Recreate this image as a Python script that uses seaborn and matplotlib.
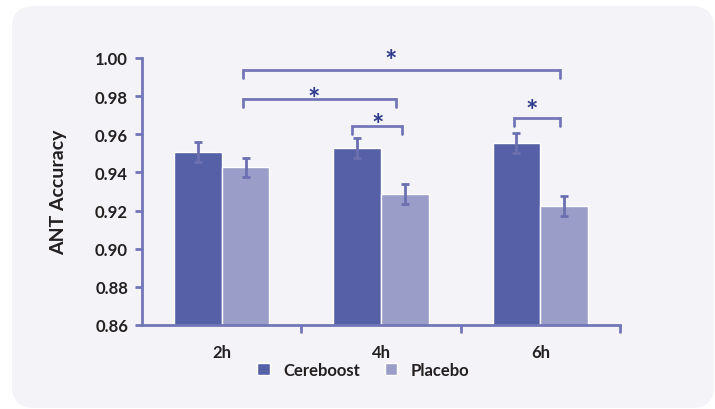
import matplotlib
matplotlib.use("Agg")
import matplotlib.pyplot as plt
from matplotlib.patches import FancyBboxPatch
import numpy as np
import pandas as pd
import seaborn as sns

# data
timepoints = ["2h", "4h", "6h"]
cereboost = [0.9507, 0.9528, 0.9554]
placebo = [0.9428, 0.9287, 0.9224]
cereboost_err = [0.0051, 0.0052, 0.0051]
placebo_err = [0.0050, 0.0051, 0.0050]
groups = ["Cereboost", "Placebo"]

# significance brackets: (x start, x end, height, star x, star y, label)
brackets = [
    (0.134, 2.123, 0.9937, 1.063, 1.0031, "*"),
    (0.134, 1.094, 0.9785, 0.580, 0.9832, "*"),
    (0.818, 1.132, 0.9643, 0.981, 0.9696, "*"),
    (1.835, 2.123, 0.9685, 1.948, 0.9769, "*"),
]

bar_colors = ["#5660a6", "#9a9dc8"]
axis_color = "#7276b8"
err_color = "#6c70b0"
star_color = "#2e3b8c"
text_color = "#231f20"
card_color = "#f4f4f8"

sns.set_style("ticks")
plt.rcParams["font.family"] = ["Lato", "DejaVu Sans"]

df = pd.DataFrame({
    "time": timepoints * 2,
    "value": cereboost + placebo,
    "err": cereboost_err + placebo_err,
    "group": [groups[0]] * 3 + [groups[1]] * 3,
})

fig = plt.figure(figsize=(7.15, 4.10), dpi=100, facecolor="white")

# rounded background card
card = FancyBboxPatch((0.12, 0.01), 7.02, 4.02,
                      boxstyle="round,pad=0,rounding_size=0.22",
                      transform=fig.dpi_scale_trans, facecolor=card_color,
                      edgecolor="none", zorder=-10)
fig.add_artist(card)

ax = fig.add_axes([142 / 715, 1 - 326 / 410, 478 / 715, 267 / 410])
ax.set_facecolor("none")

sns.barplot(data=df, x="time", y="value", hue="group", palette=bar_colors,
            width=0.6, errorbar=None, saturation=1, ax=ax, zorder=2)

# error bars drawn at the bar centres
for cont, grp in zip(ax.containers, groups):
    sub = df[df["group"] == grp]
    xs = [b.get_x() + b.get_width() / 2 for b in cont]
    ax.errorbar(xs, sub["value"].values, yerr=sub["err"].values, fmt="none",
                ecolor=err_color, elinewidth=2, capsize=3, capthick=2, zorder=3)

ax.set_ylim(0.86, 1.00)
ax.set_xlim(-0.5, 2.5)
ax.set_yticks(np.arange(0.86, 1.001, 0.02))
ax.set_yticklabels([f"{v:.2f}" for v in np.arange(0.86, 1.001, 0.02)])

# ticks between groups, labels at group centres
ax.set_xticks([0.5, 1.5, 2.5])
ax.set_xticklabels([])
ax.set_xticks([0, 1, 2], minor=True)
ax.set_xticklabels(timepoints, minor=True)
ax.tick_params(axis="x", which="major", length=6, width=2, color=axis_color)
ax.tick_params(axis="x", which="minor", length=0, pad=14, labelsize=12,
               labelcolor=text_color)
ax.tick_params(axis="y", length=5, width=2, color=axis_color, pad=5,
               labelsize=12, labelcolor=text_color)
for lab in ax.get_xticklabels(minor=True) + ax.get_yticklabels():
    lab.set_fontweight("bold")

sns.despine(ax=ax)
for s in ["left", "bottom"]:
    ax.spines[s].set_color(axis_color)
    ax.spines[s].set_linewidth(2)

ax.set_xlabel("")
ax.set_ylabel("ANT Accuracy", fontsize=14, fontweight="bold", color=text_color,
              labelpad=20)

# significance brackets
drop = 0.0042
star_size = 21
for x0, x1, y, sx, sy, lab in brackets:
    ax.plot([x0, x0, x1, x1], [y - drop, y, y, y - drop], color=axis_color,
            lw=2, clip_on=False, solid_joinstyle="miter", zorder=4)
    # the asterisk glyph sits about 0.58 em above the baseline
    ax.annotate(lab, xy=(sx, sy), xytext=(0, -0.58 * star_size),
                textcoords="offset points", ha="center", va="baseline",
                fontsize=star_size, fontweight="bold", color=star_color,
                annotation_clip=False)

handles, labels = ax.get_legend_handles_labels()
ax.legend_.remove()
fig.legend(handles, labels, loc="center", bbox_to_anchor=(0.508, 0.095),
           ncol=2, frameon=False, handlelength=0.75, handleheight=0.75,
           columnspacing=1.5, handletextpad=0.8,
           prop={"size": 12, "weight": "bold"}, labelcolor=text_color)

fig.savefig("out.png", dpi=100, facecolor="white")
